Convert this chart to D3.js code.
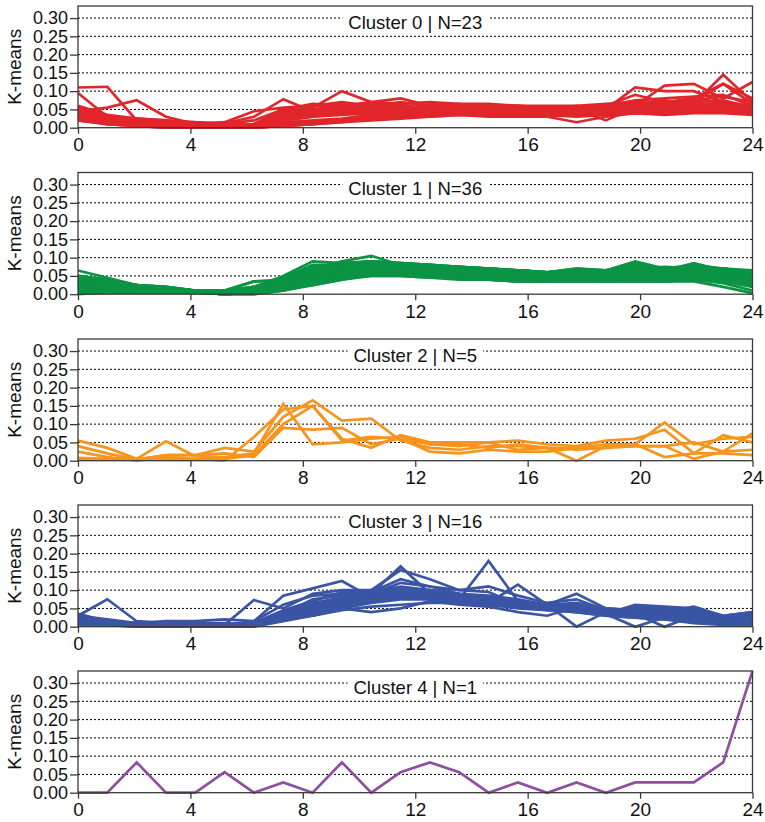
<!DOCTYPE html>
<html>
<head>
<meta charset="utf-8">
<script src="https://cdn.jsdelivr.net/npm/d3@7"></script>
<style>
  body { margin: 0; background: #fff; }
  text { font-family: "Liberation Sans", Arial, sans-serif; }
</style>
</head>
<body>
<svg width="765" height="822"></svg>
<script>
// hour positions of the 24 samples
var hours = [0, 1.043, 2.087, 3.130, 4.174, 5.217, 6.261, 7.304, 8.348, 9.391, 10.435, 11.478,
             12.522, 13.565, 14.609, 15.652, 16.696, 17.739, 18.783, 19.826, 20.870, 21.913, 22.957, 24];

var xTicks = [0, 4, 8, 12, 16, 20, 24];
var yTicks = [0, 0.05, 0.10, 0.15, 0.20, 0.25, 0.30];
var yGrid = [0.05, 0.10, 0.15, 0.20, 0.25, 0.30];

var clusterNames = ["Cluster 0", "Cluster 1", "Cluster 2", "Cluster 3", "Cluster 4"];
var clusterSizes = [23, 36, 5, 16, 1];
var clusterColors = ["#e1262b", "#0b9444", "#f7941d", "#3a55a5", "#8e4f9f"];

var cluster0 = [
  [.11,.112,.02,.01,.005,.005,.01,.03,.04,.05,.06,.055,.05,.05,.045,.05,.045,.05,.06,.09,.07,.08,.12,.08],
  [.095,.03,.025,.015,.01,.005,.01,.04,.055,.1,.07,.08,.06,.055,.06,.055,.05,.06,.05,.11,.1,.1,.07,.05],
  [.045,.055,.075,.03,.01,.015,.045,.055,.06,.065,.05,.06,.05,.05,.05,.045,.05,.045,.055,.065,.075,.065,.145,.07],
  [.06,.035,.025,.02,.015,.012,.03,.078,.045,.06,.065,.055,.06,.05,.06,.05,.045,.055,.06,.06,.115,.12,.08,.125],
  [.055,.03,.02,.015,.01,.01,.005,.045,.06,.055,.05,.045,.065,.06,.055,.05,.05,.045,.05,.06,.065,.06,.07,.06],
  [.05,.025,.02,.01,.005,.005,.005,.04,.05,.06,.045,.05,.055,.065,.05,.055,.045,.05,.055,.055,.06,.07,.12,.065],
  [.045,.02,.015,.01,.005,.005,.005,.03,.05,.045,.055,.05,.045,.05,.045,.04,.04,.045,.05,.05,.055,.06,.065,.055],
  [.04,.025,.015,.01,.005,0,.005,.035,.045,.05,.045,.04,.05,.045,.04,.045,.035,.04,.045,.05,.05,.055,.06,.05],
  [.04,.02,.015,.01,.005,.005,0,.02,.03,.04,.05,.045,.04,.04,.045,.04,.04,.035,.045,.045,.05,.05,.055,.045],
  [.035,.02,.01,.005,.005,0,0,.015,.02,.025,.035,.04,.035,.04,.035,.035,.04,.04,.04,.045,.05,.055,.05,.05],
  [.035,.015,.01,.005,0,0,0,.005,.01,.015,.025,.03,.04,.035,.035,.03,.03,.035,.04,.04,.045,.05,.05,.04],
  [.03,.015,.01,.005,0,0,0,.005,.01,.015,.02,.025,.03,.035,.03,.03,.035,.03,.035,.045,.045,.045,.045,.04],
  [.03,.02,.01,.005,.005,0,.005,.025,.04,.045,.04,.055,.045,.045,.05,.04,.035,.04,.045,.05,.06,.05,.06,.045],
  [.025,.015,.01,.005,0,0,.005,.03,.045,.05,.06,.06,.055,.05,.06,.06,.055,.05,.055,.065,.055,.065,.06,.06],
  [.025,.01,.005,0,0,0,0,.01,.015,.02,.03,.035,.04,.04,.04,.035,.035,.04,.035,.04,.04,.045,.05,.035],
  [.02,.01,.005,0,0,0,0,.005,.01,.02,.025,.03,.03,.035,.035,.03,.03,.015,.03,.04,.035,.04,.04,.035],
  [.05,.03,.02,.015,.01,.005,.01,.05,.065,.06,.07,.065,.07,.065,.065,.06,.06,.06,.065,.07,.065,.075,.085,.07],
  [.045,.03,.025,.02,.01,.01,.02,.05,.06,.07,.06,.07,.06,.06,.055,.06,.055,.055,.06,.075,.08,.085,.09,.06],
  [.04,.025,.02,.015,.01,.005,.01,.04,.05,.055,.06,.05,.05,.055,.05,.05,.05,.05,.02,.055,.06,.07,.075,.055],
  [.035,.025,.015,.01,.005,.005,.005,.035,.045,.05,.05,.055,.05,.05,.045,.05,.045,.05,.05,.055,.07,.065,.065,.05],
  [.03,.02,.015,.01,.005,.005,.005,.03,.04,.05,.04,.035,.04,.045,.04,.04,.04,.045,.045,.05,.055,.06,.055,.045],
  [.02,.01,.005,.005,0,0,0,.02,.03,.035,.04,.035,.045,.04,.04,.045,.04,.04,.04,.045,.05,.055,.06,.05],
  [.03,.015,.01,.01,.005,.005,.005,.03,.035,.04,.045,.05,.045,.045,.045,.04,.045,.045,.05,.05,.06,.06,.065,.05]
];

var cluster1 = [
  [.065,.045,.025,.015,.01,.01,.035,.035,.055,.07,.08,.08,.075,.07,.065,.06,.055,.06,.06,.065,.06,.065,.06,.055],
  [.05,.04,.025,.02,.01,.01,.02,.05,.09,.085,.09,.085,.08,.075,.07,.065,.06,.07,.065,.09,.07,.075,.07,.06],
  [.045,.035,.025,.015,.01,.01,.015,.04,.07,.09,.105,.08,.08,.07,.065,.06,.055,.06,.065,.085,.065,.085,.065,.055],
  [.04,.03,.02,.015,.01,.005,.015,.045,.08,.08,.085,.08,.075,.07,.065,.06,.06,.065,.06,.07,.075,.07,.07,.065],
  [.04,.03,.02,.015,.01,.005,.02,.04,.075,.08,.075,.075,.07,.065,.06,.055,.055,.06,.055,.06,.065,.065,.06,.05],
  [.035,.025,.02,.015,.01,.005,.01,.035,.065,.075,.08,.075,.07,.065,.06,.055,.05,.055,.055,.06,.06,.06,.055,.05],
  [.035,.025,.015,.01,.01,.005,.01,.035,.06,.07,.075,.07,.065,.06,.055,.05,.05,.05,.05,.055,.055,.06,.055,.045],
  [.03,.025,.015,.01,.005,.005,.01,.03,.055,.07,.07,.07,.065,.06,.055,.05,.045,.05,.055,.055,.05,.055,.05,.045],
  [.03,.02,.015,.01,.005,.005,.01,.025,.05,.065,.07,.065,.065,.06,.055,.05,.045,.05,.05,.05,.05,.055,.05,.04],
  [.03,.02,.015,.01,.005,.005,.01,.03,.05,.06,.065,.065,.06,.055,.05,.045,.045,.05,.045,.05,.05,.05,.045,.04],
  [.025,.02,.015,.01,.005,.005,.01,.025,.045,.06,.065,.06,.06,.055,.05,.045,.04,.045,.045,.05,.045,.05,.045,.035],
  [.025,.02,.01,.01,.005,.005,.01,.02,.04,.055,.06,.06,.055,.05,.045,.04,.04,.045,.045,.045,.045,.045,.04,.03],
  [.02,.015,.01,.01,.005,.005,.005,.02,.035,.05,.06,.055,.055,.05,.045,.04,.035,.04,.04,.045,.04,.045,.04,.03],
  [.02,.015,.01,.005,.005,0,.005,.015,.03,.045,.055,.055,.05,.045,.04,.04,.035,.04,.04,.04,.04,.04,.035,.025],
  [.015,.015,.01,.005,.005,0,.005,.015,.03,.045,.055,.055,.05,.045,.04,.035,.035,.04,.035,.04,.035,.04,.035,.02],
  [.015,.01,.01,.005,.005,0,.005,.015,.03,.045,.05,.05,.045,.04,.04,.035,.035,.035,.035,.035,.035,.04,.03,.01],
  [.01,.01,.005,.005,.005,0,.005,.015,.025,.04,.05,.05,.045,.045,.04,.035,.035,.035,.035,.035,.035,.035,.02,.003],
  [.005,.005,.005,.005,.005,0,0,.01,.025,.04,.055,.06,.055,.05,.045,.04,.035,.04,.04,.04,.04,.04,.04,.03],
  [0,.005,.005,.005,.005,0,0,.01,.03,.05,.06,.06,.06,.055,.05,.045,.045,.045,.05,.05,.05,.05,.045,.035],
  [.035,.03,.02,.015,.01,.01,.015,.04,.065,.08,.085,.08,.075,.075,.07,.065,.06,.065,.065,.07,.07,.07,.065,.06],
  [.045,.035,.025,.015,.01,.01,.02,.045,.07,.085,.09,.085,.08,.075,.07,.065,.06,.065,.065,.075,.07,.075,.07,.06],
  [.04,.03,.025,.02,.01,.01,.015,.04,.075,.08,.09,.085,.08,.075,.065,.06,.06,.065,.065,.07,.065,.07,.065,.055],
  [.035,.03,.02,.015,.01,.005,.015,.04,.07,.08,.08,.08,.075,.07,.065,.065,.06,.06,.06,.065,.065,.065,.06,.055],
  [.03,.025,.02,.015,.01,.005,.015,.035,.065,.075,.08,.075,.07,.07,.065,.06,.055,.06,.06,.065,.06,.065,.06,.05],
  [.03,.02,.015,.01,.005,.005,.01,.035,.06,.075,.075,.075,.07,.065,.06,.055,.055,.055,.06,.06,.06,.06,.055,.05],
  [.025,.02,.015,.01,.005,.005,.01,.03,.06,.07,.075,.07,.07,.065,.06,.055,.05,.055,.055,.06,.055,.06,.055,.045],
  [.02,.015,.015,.01,.005,.005,.01,.03,.055,.07,.07,.07,.065,.065,.06,.055,.05,.05,.055,.055,.055,.055,.05,.045],
  [.02,.015,.01,.01,.005,.005,.01,.025,.05,.065,.07,.07,.065,.06,.055,.05,.05,.05,.05,.055,.05,.055,.05,.045],
  [.015,.015,.01,.01,.005,.005,.01,.025,.05,.065,.065,.065,.06,.06,.055,.05,.045,.05,.05,.05,.05,.05,.05,.04],
  [.015,.01,.01,.005,.005,.005,.01,.02,.045,.06,.065,.065,.06,.055,.05,.05,.045,.045,.05,.05,.045,.05,.045,.04],
  [.01,.01,.01,.005,.005,.005,.005,.02,.045,.06,.06,.06,.06,.055,.05,.045,.045,.045,.045,.05,.045,.045,.045,.035],
  [.01,.01,.005,.005,.005,0,.005,.02,.04,.055,.06,.06,.055,.05,.05,.045,.04,.045,.045,.045,.045,.045,.04,.035],
  [.005,.005,.005,.005,.005,0,.005,.015,.04,.055,.06,.06,.055,.05,.045,.045,.04,.045,.04,.045,.04,.045,.04,.03],
  [.05,.04,.025,.02,.01,.01,.035,.04,.06,.075,.085,.08,.075,.07,.065,.065,.06,.07,.065,.08,.07,.08,.07,.06],
  [.04,.035,.025,.015,.01,.01,.015,.04,.065,.085,.085,.08,.075,.075,.07,.065,.06,.065,.06,.065,.065,.07,.065,.06],
  [.025,.02,.015,.01,.005,.005,.01,.03,.06,.075,.08,.075,.07,.065,.06,.055,.055,.055,.055,.06,.055,.06,.055,.05]
];

var cluster2 = [
  [.055,.035,.005,.053,.012,.01,.02,.155,.045,.05,.06,.065,.045,.04,.05,.055,.045,.04,.055,.06,.085,.02,.07,.05],
  [.04,.02,.003,.015,.015,.035,.025,.12,.165,.11,.115,.055,.035,.03,.04,.04,.035,.035,.045,.045,.105,.045,.06,.065],
  [.025,.01,0,.01,.005,0,.065,.14,.15,.06,.035,.07,.05,.05,.05,.03,.035,0,.04,.04,.04,.05,.025,.03],
  [.008,.005,.003,.015,.015,.02,.01,.09,.085,.09,.045,.06,.025,.02,.03,.025,.025,.035,.035,.04,.04,.005,.025,.075],
  [.003,.003,.005,.003,.003,.005,.015,.1,.15,.055,.065,.06,.045,.045,.035,.045,.035,.03,.035,.045,.01,.02,.02,.015]
];

var cluster3 = [
  [.03,.075,.015,.01,.01,.01,.005,.03,.05,.07,.09,.165,.09,.08,.07,.06,.05,.04,.03,.025,.02,.02,.01,.02],
  [.035,.015,.01,.005,.005,.005,.073,.05,.09,.1,.1,.095,.08,.075,.18,.07,.06,.05,.035,.03,.03,.02,.015,.015],
  [.025,.015,.01,.015,.015,.02,.015,.085,.105,.125,.08,.085,.1,.09,.065,.115,.06,.09,.05,.04,.03,.025,.02,.025],
  [.02,.01,.005,.005,.005,.005,.01,.045,.07,.095,.1,.155,.13,.1,.095,.06,.055,.06,.04,.055,.05,.045,.02,.035],
  [.02,.01,.005,.005,.005,.005,.015,.06,.085,.09,.095,.13,.11,.1,.11,.085,.065,.075,.045,.04,.035,.05,.03,.04],
  [.015,.01,.005,.005,.005,.005,.01,.04,.06,.08,.095,.11,.1,.09,.085,.075,.06,0,.04,.035,.035,.04,.025,.03],
  [.015,.01,.005,.005,.005,.005,.01,.035,.055,.075,.09,.1,.095,.085,.08,.07,.06,.055,.05,.045,.04,.035,.02,.025],
  [.01,.005,.005,.005,.005,.005,.005,.03,.05,.07,.085,.095,.09,.08,.075,.065,.055,.05,.045,.04,.035,.03,.015,.02],
  [.01,.005,.005,.005,.005,.005,.005,.025,.045,.065,.08,.09,.085,.08,.07,.065,.05,.045,.04,.035,.03,.025,.01,.015],
  [.01,.005,.005,.005,0,0,.005,.02,.04,.06,.075,.085,.08,.075,.065,.06,.05,.045,.035,0,.025,.02,.01,.01],
  [.005,.005,0,0,0,0,.005,.02,.035,.055,.07,.08,.08,.07,.06,.055,.045,.04,.035,.03,.025,.015,.005,.01],
  [.005,.005,0,0,0,0,0,.015,.03,.05,.065,.075,.075,.065,.06,.05,.045,.04,.03,.025,.02,.01,.005,.005],
  [.03,.02,.01,.005,.005,.005,.01,.03,.03,.045,.055,.06,.065,.065,.06,.055,.05,.045,.04,.035,0,.03,.02,.02],
  [.02,.015,.01,.005,.005,.005,.005,.025,.03,.05,.04,.05,.07,.06,.055,.04,.03,.055,.035,.06,.055,.05,.025,.03],
  [.025,.015,.01,.005,.005,.005,.01,.04,.065,.08,.09,.105,.1,.085,.07,.065,.06,.065,.05,.045,.04,.055,.03,.04],
  [.015,.01,.005,.005,.005,.005,.01,.035,.075,.085,.09,.12,.11,.09,.08,.07,.055,.05,.04,.05,.045,.04,.02,.03]
];

var cluster4 = [
  [0,0,.083,0,0,.056,0,.028,0,.083,0,.056,.083,.056,0,.028,0,.028,0,.028,.028,.028,.083,.333]
];

var clusterLines = [cluster0, cluster1, cluster2, cluster3, cluster4];

var svg = d3.select("svg");
var left = 78, right = 752.5, panelH = 121.7;
var panelTops = [6, 172.5, 339, 505, 671];
var frameColor = "#3a3a3a";

var x = d3.scaleLinear().domain([0, 24]).range([left, right]);

clusterNames.forEach(function(name, k) {
  var top = panelTops[k];
  var y = d3.scaleLinear().domain([0, 0.333]).range([top + panelH, top]);
  var g = svg.append("g");

  // dotted grid
  g.selectAll(".grid")
    .data(yGrid)
    .enter().append("line")
      .attr("x1", left).attr("x2", right)
      .attr("y1", function(d) { return y(d); })
      .attr("y2", function(d) { return y(d); })
      .attr("stroke", "#000")
      .attr("stroke-width", 1)
      .attr("stroke-dasharray", "2,2");

  // title with white box over the top grid line
  var title = g.append("text")
      .attr("x", (left + right) / 2)
      .attr("y", y(0.30) + 10.5)
      .attr("text-anchor", "middle")
      .attr("font-size", 18.5)
      .attr("fill", "#111")
      .text(name + " | N=" + clusterSizes[k]);
  var bb = title.node().getBBox();
  g.insert("rect", "text")
      .attr("x", bb.x - 6).attr("y", bb.y)
      .attr("width", bb.width + 12).attr("height", bb.height)
      .attr("fill", "#fff");

  // series
  var line = d3.line()
      .x(function(d, i) { return x(hours[i]); })
      .y(function(d) { return y(d); });

  g.append("g")
    .selectAll("path")
    .data(clusterLines[k])
    .enter().append("path")
      .attr("d", line)
      .attr("fill", "none")
      .attr("stroke", clusterColors[k])
      .attr("stroke-width", 2.7);

  // axes
  var xAxis = g.append("g")
      .attr("transform", "translate(0," + (top + panelH) + ")")
      .attr("font-size", 19)
      .call(d3.axisBottom(x).tickValues(xTicks).tickSize(6).tickPadding(4).tickSizeOuter(0));
  var yAxis = g.append("g")
      .attr("transform", "translate(" + left + ",0)")
      .call(d3.axisLeft(y).tickValues(yTicks).tickFormat(d3.format(".2f"))
        .tickSize(8).tickPadding(2).tickSizeOuter(0));
  xAxis.attr("font-size", 19);
  yAxis.attr("font-size", 18);
  [xAxis, yAxis].forEach(function(a) {
    a.select(".domain").remove();
    a.attr("font-family", null);
    a.selectAll("line").attr("stroke", frameColor).attr("stroke-width", 1.3);
    a.selectAll("text").attr("fill", "#111");
  });

  // frame
  g.append("rect")
      .attr("x", left).attr("y", top)
      .attr("width", right - left).attr("height", panelH)
      .attr("fill", "none")
      .attr("stroke", frameColor)
      .attr("stroke-width", 1.3);

  // y label
  g.append("text")
      .attr("transform", "translate(21," + (top + panelH / 2) + ") rotate(-90)")
      .attr("text-anchor", "middle")
      .attr("font-size", 19)
      .attr("fill", "#111")
      .text("K-means");
});
</script>
</body>
</html>
